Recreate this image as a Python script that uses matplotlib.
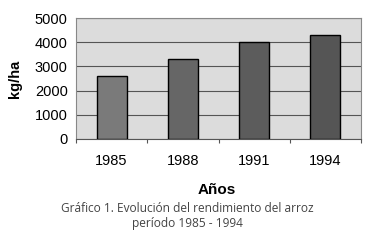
import matplotlib.pyplot as plt

plt.rcParams["font.family"] = ["Liberation Sans", "DejaVu Sans"]

years = ["1985", "1988", "1991", "1994"]
rendimiento = [2600, 3300, 4000, 4300]
bar_colors = ["#7a7a7a", "#666666", "#5c5c5c", "#555555"]
yticks = [0, 1000, 2000, 3000, 4000, 5000]

fig = plt.figure(figsize=(3.78, 2.44), dpi=100)
fig.patch.set_facecolor("white")
ax = fig.add_axes([76 / 378, 1 - 139 / 244, 285 / 378, 121 / 244])
ax.set_facecolor("#dcdcdc")

x = range(len(years))
ax.bar(x, rendimiento, width=0.42, color=bar_colors, edgecolor="black",
       linewidth=1.0, zorder=3)

ax.set_xlim(-0.5, len(years) - 0.5)
ax.set_ylim(0, 5000)
ax.set_yticks(yticks)
ax.set_yticklabels([str(t) for t in yticks], fontsize=10.5)
ax.yaxis.grid(True, color="#555555", linewidth=0.8, zorder=1)
ax.tick_params(axis="y", length=0, pad=6)

# category labels between boundary ticks
ax.set_xticks([i + 0.5 for i in range(-1, len(years))])
ax.set_xticklabels([""] * (len(years) + 1))
ax.tick_params(axis="x", length=3, color="#555555", direction="out")
for i, y in enumerate(years):
    ax.text(i, -0.12, y, transform=ax.get_xaxis_transform(), ha="center",
            va="top", fontsize=10.5)

for side in ["top", "right", "left"]:
    ax.spines[side].set_color("#888888")
ax.spines["bottom"].set_color("#555555")

fig.text(15 / 378, 1 - 79 / 244, "kg/ha", rotation=90, ha="center",
         va="center", fontsize=10.5, fontweight="bold")
fig.text(217 / 378, 1 - 190 / 244, "Años", ha="center", va="center",
         fontsize=11, fontweight="bold")
fig.text(187 / 378, 1 - 209 / 244,
         "Gráfico 1. Evolución del rendimiento del arroz",
         ha="center", va="center", fontsize=8.6, color="#444444",
         family="Open Sans")
fig.text(187 / 378, 1 - 224 / 244, "período 1985 - 1994",
         ha="center", va="center", fontsize=8.6, color="#444444",
         family="Open Sans")

fig.savefig("out.png", dpi=100)
